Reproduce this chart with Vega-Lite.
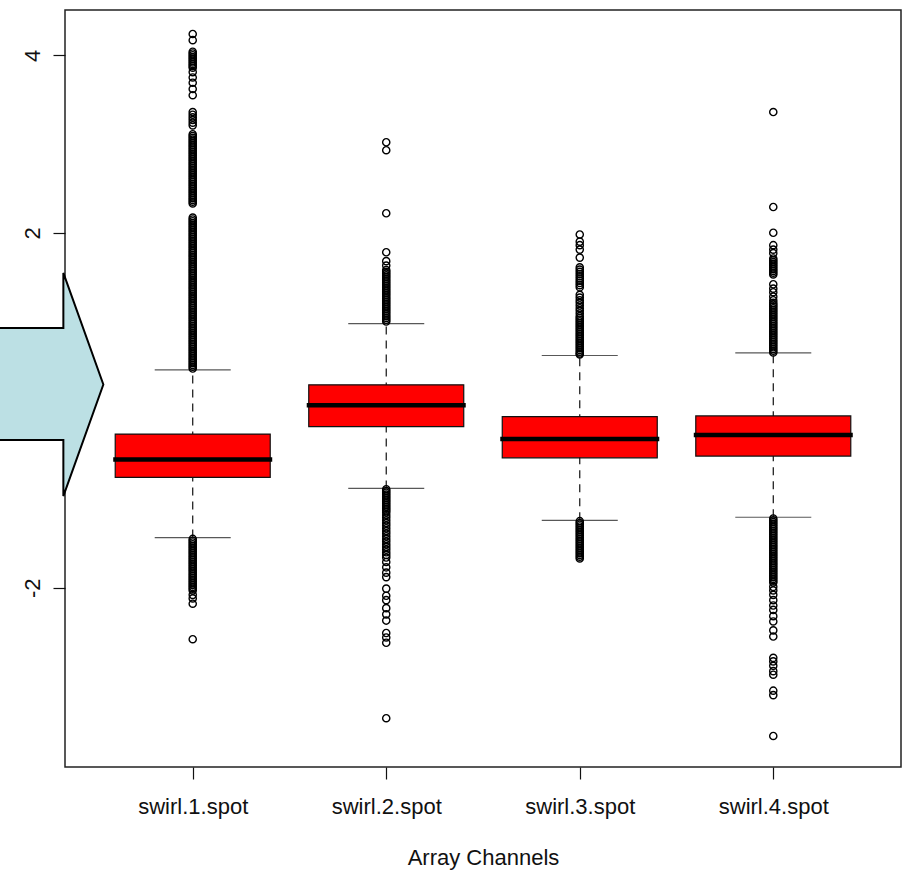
{
  "$schema": "https://vega.github.io/schema/vega-lite/v6.json",
  "width": 836,
  "height": 757,
  "autosize": {"type": "none"},
  "padding": {"left": 65, "top": 10, "right": 3, "bottom": 113},
  "background": "white",
  "config": {
    "view": {"stroke": "#222", "strokeWidth": 1.5},
    "axis": {
      "grid": false,
      "domain": false,
      "labelFont": "Liberation Sans",
      "titleFont": "Liberation Sans",
      "labelFontSize": 22,
      "titleFontSize": 22,
      "titleFontWeight": "normal",
      "labelColor": "#111",
      "titleColor": "#111",
      "tickColor": "#111",
      "tickSize": 12,
      "tickWidth": 1.2
    }
  },
  "datasets": {
    "boxes": [
      {"channel": "swirl.1.spot", "lower": -1.435, "q1": -0.757, "median": -0.554, "q3": -0.268, "upper": 0.455},
      {"channel": "swirl.2.spot", "lower": -0.881, "q1": -0.185, "median": 0.056, "q3": 0.286, "upper": 0.975},
      {"channel": "swirl.3.spot", "lower": -1.24, "q1": -0.536, "median": -0.324, "q3": -0.072, "upper": 0.617},
      {"channel": "swirl.4.spot", "lower": -1.206, "q1": -0.516, "median": -0.279, "q3": -0.064, "upper": 0.647}
    ],
    "outliers": [
      {"channel":"swirl.1.spot","v":4.24},{"channel":"swirl.1.spot","v":4.17},{"channel":"swirl.1.spot","v":4.04},{"channel":"swirl.1.spot","v":4.02},{"channel":"swirl.1.spot","v":4.0},{"channel":"swirl.1.spot","v":3.98},{"channel":"swirl.1.spot","v":3.96},{"channel":"swirl.1.spot","v":3.94},{"channel":"swirl.1.spot","v":3.92},{"channel":"swirl.1.spot","v":3.9},{"channel":"swirl.1.spot","v":3.88},{"channel":"swirl.1.spot","v":3.86},{"channel":"swirl.1.spot","v":3.81},{"channel":"swirl.1.spot","v":3.75},{"channel":"swirl.1.spot","v":3.69},{"channel":"swirl.1.spot","v":3.62},{"channel":"swirl.1.spot","v":3.55},{"channel":"swirl.1.spot","v":3.36},{"channel":"swirl.1.spot","v":3.33},{"channel":"swirl.1.spot","v":3.3},{"channel":"swirl.1.spot","v":3.27},{"channel":"swirl.1.spot","v":3.24},{"channel":"swirl.1.spot","v":3.21},
      {"channel":"swirl.1.spot","v":3.11},{"channel":"swirl.1.spot","v":3.09},{"channel":"swirl.1.spot","v":3.07},{"channel":"swirl.1.spot","v":3.05},{"channel":"swirl.1.spot","v":3.03},{"channel":"swirl.1.spot","v":3.01},{"channel":"swirl.1.spot","v":2.99},{"channel":"swirl.1.spot","v":2.97},{"channel":"swirl.1.spot","v":2.95},{"channel":"swirl.1.spot","v":2.93},{"channel":"swirl.1.spot","v":2.91},{"channel":"swirl.1.spot","v":2.89},{"channel":"swirl.1.spot","v":2.87},{"channel":"swirl.1.spot","v":2.85},{"channel":"swirl.1.spot","v":2.83},{"channel":"swirl.1.spot","v":2.81},{"channel":"swirl.1.spot","v":2.79},{"channel":"swirl.1.spot","v":2.77},{"channel":"swirl.1.spot","v":2.75},{"channel":"swirl.1.spot","v":2.73},{"channel":"swirl.1.spot","v":2.71},{"channel":"swirl.1.spot","v":2.69},{"channel":"swirl.1.spot","v":2.67},{"channel":"swirl.1.spot","v":2.65},{"channel":"swirl.1.spot","v":2.63},{"channel":"swirl.1.spot","v":2.61},{"channel":"swirl.1.spot","v":2.59},{"channel":"swirl.1.spot","v":2.57},{"channel":"swirl.1.spot","v":2.55},{"channel":"swirl.1.spot","v":2.53},{"channel":"swirl.1.spot","v":2.51},{"channel":"swirl.1.spot","v":2.49},{"channel":"swirl.1.spot","v":2.47},{"channel":"swirl.1.spot","v":2.45},{"channel":"swirl.1.spot","v":2.43},{"channel":"swirl.1.spot","v":2.41},{"channel":"swirl.1.spot","v":2.39},{"channel":"swirl.1.spot","v":2.37},{"channel":"swirl.1.spot","v":2.35},{"channel":"swirl.1.spot","v":2.33},
      {"channel":"swirl.1.spot","v":2.17},{"channel":"swirl.1.spot","v":2.15},{"channel":"swirl.1.spot","v":2.13},{"channel":"swirl.1.spot","v":2.11},{"channel":"swirl.1.spot","v":2.09},{"channel":"swirl.1.spot","v":2.07},{"channel":"swirl.1.spot","v":2.05},{"channel":"swirl.1.spot","v":2.03},{"channel":"swirl.1.spot","v":2.01},{"channel":"swirl.1.spot","v":1.99},{"channel":"swirl.1.spot","v":1.97},{"channel":"swirl.1.spot","v":1.95},{"channel":"swirl.1.spot","v":1.93},{"channel":"swirl.1.spot","v":1.91},{"channel":"swirl.1.spot","v":1.89},{"channel":"swirl.1.spot","v":1.87},{"channel":"swirl.1.spot","v":1.85},{"channel":"swirl.1.spot","v":1.83},{"channel":"swirl.1.spot","v":1.81},{"channel":"swirl.1.spot","v":1.79},{"channel":"swirl.1.spot","v":1.77},{"channel":"swirl.1.spot","v":1.75},{"channel":"swirl.1.spot","v":1.73},{"channel":"swirl.1.spot","v":1.71},{"channel":"swirl.1.spot","v":1.69},{"channel":"swirl.1.spot","v":1.67},{"channel":"swirl.1.spot","v":1.65},{"channel":"swirl.1.spot","v":1.63},{"channel":"swirl.1.spot","v":1.61},{"channel":"swirl.1.spot","v":1.59},{"channel":"swirl.1.spot","v":1.57},{"channel":"swirl.1.spot","v":1.55},{"channel":"swirl.1.spot","v":1.53},{"channel":"swirl.1.spot","v":1.51},{"channel":"swirl.1.spot","v":1.49},{"channel":"swirl.1.spot","v":1.47},{"channel":"swirl.1.spot","v":1.45},{"channel":"swirl.1.spot","v":1.43},{"channel":"swirl.1.spot","v":1.41},{"channel":"swirl.1.spot","v":1.39},{"channel":"swirl.1.spot","v":1.37},{"channel":"swirl.1.spot","v":1.35},{"channel":"swirl.1.spot","v":1.33},{"channel":"swirl.1.spot","v":1.31},{"channel":"swirl.1.spot","v":1.29},{"channel":"swirl.1.spot","v":1.27},{"channel":"swirl.1.spot","v":1.25},{"channel":"swirl.1.spot","v":1.23},{"channel":"swirl.1.spot","v":1.21},{"channel":"swirl.1.spot","v":1.19},{"channel":"swirl.1.spot","v":1.17},{"channel":"swirl.1.spot","v":1.15},{"channel":"swirl.1.spot","v":1.13},{"channel":"swirl.1.spot","v":1.11},{"channel":"swirl.1.spot","v":1.09},{"channel":"swirl.1.spot","v":1.07},{"channel":"swirl.1.spot","v":1.05},{"channel":"swirl.1.spot","v":1.03},{"channel":"swirl.1.spot","v":1.01},{"channel":"swirl.1.spot","v":0.99},{"channel":"swirl.1.spot","v":0.97},{"channel":"swirl.1.spot","v":0.95},{"channel":"swirl.1.spot","v":0.93},{"channel":"swirl.1.spot","v":0.91},{"channel":"swirl.1.spot","v":0.89},{"channel":"swirl.1.spot","v":0.87},{"channel":"swirl.1.spot","v":0.85},{"channel":"swirl.1.spot","v":0.83},{"channel":"swirl.1.spot","v":0.81},{"channel":"swirl.1.spot","v":0.79},{"channel":"swirl.1.spot","v":0.77},{"channel":"swirl.1.spot","v":0.75},{"channel":"swirl.1.spot","v":0.73},{"channel":"swirl.1.spot","v":0.71},{"channel":"swirl.1.spot","v":0.69},{"channel":"swirl.1.spot","v":0.67},{"channel":"swirl.1.spot","v":0.65},{"channel":"swirl.1.spot","v":0.63},{"channel":"swirl.1.spot","v":0.61},{"channel":"swirl.1.spot","v":0.59},{"channel":"swirl.1.spot","v":0.57},{"channel":"swirl.1.spot","v":0.55},{"channel":"swirl.1.spot","v":0.53},{"channel":"swirl.1.spot","v":0.51},{"channel":"swirl.1.spot","v":0.49},{"channel":"swirl.1.spot","v":0.47},
      {"channel":"swirl.1.spot","v":-1.45},{"channel":"swirl.1.spot","v":-1.47},{"channel":"swirl.1.spot","v":-1.49},{"channel":"swirl.1.spot","v":-1.51},{"channel":"swirl.1.spot","v":-1.53},{"channel":"swirl.1.spot","v":-1.55},{"channel":"swirl.1.spot","v":-1.57},{"channel":"swirl.1.spot","v":-1.59},{"channel":"swirl.1.spot","v":-1.61},{"channel":"swirl.1.spot","v":-1.63},{"channel":"swirl.1.spot","v":-1.65},{"channel":"swirl.1.spot","v":-1.67},{"channel":"swirl.1.spot","v":-1.69},{"channel":"swirl.1.spot","v":-1.71},{"channel":"swirl.1.spot","v":-1.73},{"channel":"swirl.1.spot","v":-1.75},{"channel":"swirl.1.spot","v":-1.77},{"channel":"swirl.1.spot","v":-1.79},{"channel":"swirl.1.spot","v":-1.81},{"channel":"swirl.1.spot","v":-1.83},{"channel":"swirl.1.spot","v":-1.85},{"channel":"swirl.1.spot","v":-1.87},{"channel":"swirl.1.spot","v":-1.89},{"channel":"swirl.1.spot","v":-1.91},{"channel":"swirl.1.spot","v":-1.93},{"channel":"swirl.1.spot","v":-1.95},{"channel":"swirl.1.spot","v":-1.97},{"channel":"swirl.1.spot","v":-1.99},{"channel":"swirl.1.spot","v":-2.01},{"channel":"swirl.1.spot","v":-2.03},{"channel":"swirl.1.spot","v":-2.08},{"channel":"swirl.1.spot","v":-2.12},{"channel":"swirl.1.spot","v":-2.18},{"channel":"swirl.1.spot","v":-2.58},
      {"channel":"swirl.2.spot","v":3.02},{"channel":"swirl.2.spot","v":2.93},{"channel":"swirl.2.spot","v":2.22},{"channel":"swirl.2.spot","v":1.78},{"channel":"swirl.2.spot","v":1.68},{"channel":"swirl.2.spot","v":1.63},{"channel":"swirl.2.spot","v":1.58},{"channel":"swirl.2.spot","v":1.56},{"channel":"swirl.2.spot","v":1.54},{"channel":"swirl.2.spot","v":1.52},{"channel":"swirl.2.spot","v":1.5},{"channel":"swirl.2.spot","v":1.48},{"channel":"swirl.2.spot","v":1.46},{"channel":"swirl.2.spot","v":1.44},{"channel":"swirl.2.spot","v":1.42},{"channel":"swirl.2.spot","v":1.4},{"channel":"swirl.2.spot","v":1.38},{"channel":"swirl.2.spot","v":1.36},{"channel":"swirl.2.spot","v":1.34},{"channel":"swirl.2.spot","v":1.32},{"channel":"swirl.2.spot","v":1.3},{"channel":"swirl.2.spot","v":1.28},{"channel":"swirl.2.spot","v":1.26},{"channel":"swirl.2.spot","v":1.24},{"channel":"swirl.2.spot","v":1.22},{"channel":"swirl.2.spot","v":1.2},{"channel":"swirl.2.spot","v":1.18},{"channel":"swirl.2.spot","v":1.16},{"channel":"swirl.2.spot","v":1.14},{"channel":"swirl.2.spot","v":1.12},{"channel":"swirl.2.spot","v":1.1},{"channel":"swirl.2.spot","v":1.08},{"channel":"swirl.2.spot","v":1.06},{"channel":"swirl.2.spot","v":1.04},{"channel":"swirl.2.spot","v":1.02},{"channel":"swirl.2.spot","v":1.0},
      {"channel":"swirl.2.spot","v":-0.89},{"channel":"swirl.2.spot","v":-0.91},{"channel":"swirl.2.spot","v":-0.93},{"channel":"swirl.2.spot","v":-0.95},{"channel":"swirl.2.spot","v":-0.97},{"channel":"swirl.2.spot","v":-0.99},{"channel":"swirl.2.spot","v":-1.01},{"channel":"swirl.2.spot","v":-1.03},{"channel":"swirl.2.spot","v":-1.05},{"channel":"swirl.2.spot","v":-1.07},{"channel":"swirl.2.spot","v":-1.09},{"channel":"swirl.2.spot","v":-1.11},{"channel":"swirl.2.spot","v":-1.13},{"channel":"swirl.2.spot","v":-1.15},{"channel":"swirl.2.spot","v":-1.18},{"channel":"swirl.2.spot","v":-1.21},{"channel":"swirl.2.spot","v":-1.24},{"channel":"swirl.2.spot","v":-1.27},{"channel":"swirl.2.spot","v":-1.3},{"channel":"swirl.2.spot","v":-1.33},{"channel":"swirl.2.spot","v":-1.36},{"channel":"swirl.2.spot","v":-1.39},{"channel":"swirl.2.spot","v":-1.42},{"channel":"swirl.2.spot","v":-1.45},{"channel":"swirl.2.spot","v":-1.48},{"channel":"swirl.2.spot","v":-1.51},{"channel":"swirl.2.spot","v":-1.54},{"channel":"swirl.2.spot","v":-1.57},{"channel":"swirl.2.spot","v":-1.6},{"channel":"swirl.2.spot","v":-1.63},{"channel":"swirl.2.spot","v":-1.66},{"channel":"swirl.2.spot","v":-1.71},{"channel":"swirl.2.spot","v":-1.77},{"channel":"swirl.2.spot","v":-1.83},{"channel":"swirl.2.spot","v":-1.88},{"channel":"swirl.2.spot","v":-2.01},{"channel":"swirl.2.spot","v":-2.09},{"channel":"swirl.2.spot","v":-2.14},{"channel":"swirl.2.spot","v":-2.23},{"channel":"swirl.2.spot","v":-2.3},{"channel":"swirl.2.spot","v":-2.37},{"channel":"swirl.2.spot","v":-2.51},{"channel":"swirl.2.spot","v":-2.56},{"channel":"swirl.2.spot","v":-2.62},{"channel":"swirl.2.spot","v":-3.47},
      {"channel":"swirl.3.spot","v":1.98},{"channel":"swirl.3.spot","v":1.9},{"channel":"swirl.3.spot","v":1.86},{"channel":"swirl.3.spot","v":1.81},{"channel":"swirl.3.spot","v":1.72},{"channel":"swirl.3.spot","v":1.61},{"channel":"swirl.3.spot","v":1.585},{"channel":"swirl.3.spot","v":1.56},{"channel":"swirl.3.spot","v":1.535},{"channel":"swirl.3.spot","v":1.51},{"channel":"swirl.3.spot","v":1.485},{"channel":"swirl.3.spot","v":1.46},{"channel":"swirl.3.spot","v":1.435},{"channel":"swirl.3.spot","v":1.41},{"channel":"swirl.3.spot","v":1.385},{"channel":"swirl.3.spot","v":1.3},{"channel":"swirl.3.spot","v":1.27},{"channel":"swirl.3.spot","v":1.24},{"channel":"swirl.3.spot","v":1.21},{"channel":"swirl.3.spot","v":1.18},{"channel":"swirl.3.spot","v":1.15},{"channel":"swirl.3.spot","v":1.12},{"channel":"swirl.3.spot","v":1.09},{"channel":"swirl.3.spot","v":1.06},{"channel":"swirl.3.spot","v":1.04},{"channel":"swirl.3.spot","v":1.02},{"channel":"swirl.3.spot","v":1.0},{"channel":"swirl.3.spot","v":0.98},{"channel":"swirl.3.spot","v":0.96},{"channel":"swirl.3.spot","v":0.94},{"channel":"swirl.3.spot","v":0.92},{"channel":"swirl.3.spot","v":0.9},{"channel":"swirl.3.spot","v":0.88},{"channel":"swirl.3.spot","v":0.86},{"channel":"swirl.3.spot","v":0.84},{"channel":"swirl.3.spot","v":0.82},{"channel":"swirl.3.spot","v":0.8},{"channel":"swirl.3.spot","v":0.78},{"channel":"swirl.3.spot","v":0.76},{"channel":"swirl.3.spot","v":0.74},{"channel":"swirl.3.spot","v":0.72},{"channel":"swirl.3.spot","v":0.7},{"channel":"swirl.3.spot","v":0.68},{"channel":"swirl.3.spot","v":0.66},{"channel":"swirl.3.spot","v":0.64},{"channel":"swirl.3.spot","v":0.63},
      {"channel":"swirl.3.spot","v":-1.25},{"channel":"swirl.3.spot","v":-1.27},{"channel":"swirl.3.spot","v":-1.29},{"channel":"swirl.3.spot","v":-1.31},{"channel":"swirl.3.spot","v":-1.33},{"channel":"swirl.3.spot","v":-1.35},{"channel":"swirl.3.spot","v":-1.37},{"channel":"swirl.3.spot","v":-1.39},{"channel":"swirl.3.spot","v":-1.41},{"channel":"swirl.3.spot","v":-1.43},{"channel":"swirl.3.spot","v":-1.45},{"channel":"swirl.3.spot","v":-1.47},{"channel":"swirl.3.spot","v":-1.49},{"channel":"swirl.3.spot","v":-1.51},{"channel":"swirl.3.spot","v":-1.53},{"channel":"swirl.3.spot","v":-1.55},{"channel":"swirl.3.spot","v":-1.57},{"channel":"swirl.3.spot","v":-1.59},{"channel":"swirl.3.spot","v":-1.61},{"channel":"swirl.3.spot","v":-1.63},{"channel":"swirl.3.spot","v":-1.65},{"channel":"swirl.3.spot","v":-1.67},
      {"channel":"swirl.4.spot","v":3.36},{"channel":"swirl.4.spot","v":2.29},{"channel":"swirl.4.spot","v":2.0},{"channel":"swirl.4.spot","v":1.86},{"channel":"swirl.4.spot","v":1.81},{"channel":"swirl.4.spot","v":1.77},{"channel":"swirl.4.spot","v":1.71},{"channel":"swirl.4.spot","v":1.69},{"channel":"swirl.4.spot","v":1.67},{"channel":"swirl.4.spot","v":1.65},{"channel":"swirl.4.spot","v":1.63},{"channel":"swirl.4.spot","v":1.61},{"channel":"swirl.4.spot","v":1.59},{"channel":"swirl.4.spot","v":1.57},{"channel":"swirl.4.spot","v":1.55},{"channel":"swirl.4.spot","v":1.53},{"channel":"swirl.4.spot","v":1.42},{"channel":"swirl.4.spot","v":1.37},{"channel":"swirl.4.spot","v":1.33},{"channel":"swirl.4.spot","v":1.28},{"channel":"swirl.4.spot","v":1.24},{"channel":"swirl.4.spot","v":1.21},{"channel":"swirl.4.spot","v":1.19},{"channel":"swirl.4.spot","v":1.17},{"channel":"swirl.4.spot","v":1.15},{"channel":"swirl.4.spot","v":1.13},{"channel":"swirl.4.spot","v":1.11},{"channel":"swirl.4.spot","v":1.09},{"channel":"swirl.4.spot","v":1.07},{"channel":"swirl.4.spot","v":1.05},{"channel":"swirl.4.spot","v":1.03},{"channel":"swirl.4.spot","v":1.01},{"channel":"swirl.4.spot","v":0.99},{"channel":"swirl.4.spot","v":0.97},{"channel":"swirl.4.spot","v":0.95},{"channel":"swirl.4.spot","v":0.93},{"channel":"swirl.4.spot","v":0.91},{"channel":"swirl.4.spot","v":0.89},{"channel":"swirl.4.spot","v":0.87},{"channel":"swirl.4.spot","v":0.85},{"channel":"swirl.4.spot","v":0.83},{"channel":"swirl.4.spot","v":0.81},{"channel":"swirl.4.spot","v":0.79},{"channel":"swirl.4.spot","v":0.77},{"channel":"swirl.4.spot","v":0.75},{"channel":"swirl.4.spot","v":0.73},{"channel":"swirl.4.spot","v":0.71},{"channel":"swirl.4.spot","v":0.69},{"channel":"swirl.4.spot","v":0.67},{"channel":"swirl.4.spot","v":0.65},
      {"channel":"swirl.4.spot","v":-1.22},{"channel":"swirl.4.spot","v":-1.24},{"channel":"swirl.4.spot","v":-1.26},{"channel":"swirl.4.spot","v":-1.28},{"channel":"swirl.4.spot","v":-1.3},{"channel":"swirl.4.spot","v":-1.32},{"channel":"swirl.4.spot","v":-1.34},{"channel":"swirl.4.spot","v":-1.36},{"channel":"swirl.4.spot","v":-1.38},{"channel":"swirl.4.spot","v":-1.4},{"channel":"swirl.4.spot","v":-1.42},{"channel":"swirl.4.spot","v":-1.44},{"channel":"swirl.4.spot","v":-1.46},{"channel":"swirl.4.spot","v":-1.48},{"channel":"swirl.4.spot","v":-1.5},{"channel":"swirl.4.spot","v":-1.52},{"channel":"swirl.4.spot","v":-1.54},{"channel":"swirl.4.spot","v":-1.56},{"channel":"swirl.4.spot","v":-1.58},{"channel":"swirl.4.spot","v":-1.6},{"channel":"swirl.4.spot","v":-1.62},{"channel":"swirl.4.spot","v":-1.64},{"channel":"swirl.4.spot","v":-1.66},{"channel":"swirl.4.spot","v":-1.68},{"channel":"swirl.4.spot","v":-1.7},{"channel":"swirl.4.spot","v":-1.72},{"channel":"swirl.4.spot","v":-1.74},{"channel":"swirl.4.spot","v":-1.76},{"channel":"swirl.4.spot","v":-1.78},{"channel":"swirl.4.spot","v":-1.8},{"channel":"swirl.4.spot","v":-1.82},{"channel":"swirl.4.spot","v":-1.84},{"channel":"swirl.4.spot","v":-1.86},{"channel":"swirl.4.spot","v":-1.88},{"channel":"swirl.4.spot","v":-1.9},{"channel":"swirl.4.spot","v":-1.92},{"channel":"swirl.4.spot","v":-1.94},{"channel":"swirl.4.spot","v":-1.99},{"channel":"swirl.4.spot","v":-2.03},{"channel":"swirl.4.spot","v":-2.08},{"channel":"swirl.4.spot","v":-2.14},{"channel":"swirl.4.spot","v":-2.2},{"channel":"swirl.4.spot","v":-2.25},{"channel":"swirl.4.spot","v":-2.32},{"channel":"swirl.4.spot","v":-2.38},{"channel":"swirl.4.spot","v":-2.48},{"channel":"swirl.4.spot","v":-2.55},{"channel":"swirl.4.spot","v":-2.79},{"channel":"swirl.4.spot","v":-2.83},{"channel":"swirl.4.spot","v":-2.88},{"channel":"swirl.4.spot","v":-2.94},{"channel":"swirl.4.spot","v":-2.98},{"channel":"swirl.4.spot","v":-3.16},{"channel":"swirl.4.spot","v":-3.21},{"channel":"swirl.4.spot","v":-3.67}
    ],
    "arrow": [{"channel": "swirl.1.spot", "y": 0.29}]
  },
  "encoding": {
    "x": {
      "field": "channel",
      "type": "nominal",
      "scale": {"type": "point", "padding": 0.66},
      "axis": {"title": "Array Channels", "labelAngle": 0, "labelPadding": 17, "titlePadding": 30}
    }
  },
  "layer": [
    {
      "data": {"name": "boxes"},
      "mark": {"type": "rule", "color": "#111", "strokeWidth": 1.2, "strokeDash": [8, 6]},
      "encoding": {
        "y": {
          "field": "lower",
          "type": "quantitative",
          "title": null,
          "scale": {"domain": [-4.02, 4.51], "nice": false, "zero": false},
          "axis": {"values": [-2, 0, 2, 4], "labelAngle": -90, "labelBaseline": "bottom", "labelAlign": "center", "labelPadding": 9, "labelExpr": "'' + datum.value"}
        },
        "y2": {"field": "upper"}
      }
    },
    {
      "data": {"name": "boxes"},
      "mark": {"type": "tick", "color": "#111", "size": 76, "thickness": 1.2},
      "encoding": {"y": {"field": "lower", "type": "quantitative", "title": null}}
    },
    {
      "data": {"name": "boxes"},
      "mark": {"type": "tick", "color": "#111", "size": 76, "thickness": 1.2},
      "encoding": {"y": {"field": "upper", "type": "quantitative", "title": null}}
    },
    {
      "data": {"name": "boxes"},
      "mark": {"type": "bar", "size": 155, "fill": "#FF0000", "stroke": "#111", "strokeWidth": 1.2},
      "encoding": {
        "y": {"field": "q1", "type": "quantitative", "title": null},
        "y2": {"field": "q3"}
      }
    },
    {
      "data": {"name": "boxes"},
      "mark": {"type": "tick", "color": "#000", "size": 159, "thickness": 4.5, "opacity": 1},
      "encoding": {"y": {"field": "median", "type": "quantitative", "title": null}}
    },
    {
      "data": {"name": "outliers"},
      "mark": {"type": "point", "shape": "circle", "filled": false, "stroke": "#000", "strokeWidth": 1.4, "size": 52, "opacity": 1},
      "encoding": {"y": {"field": "v", "type": "quantitative", "title": null}}
    },
    {
      "data": {"name": "arrow"},
      "mark": {
        "type": "point",
        "shape": "M-1.86,-0.504L-1.155,-0.504L-1.155,-0.996L-0.798,0L-1.155,0.996L-1.155,0.496L-1.86,0.496Z",
        "size": 50176,
        "filled": true,
        "fill": "#BCE0E4",
        "stroke": "#000",
        "strokeWidth": 2,
        "opacity": 1
      },
      "encoding": {
        "y": {"field": "y", "type": "quantitative", "title": null}
      }
    }
  ]
}
